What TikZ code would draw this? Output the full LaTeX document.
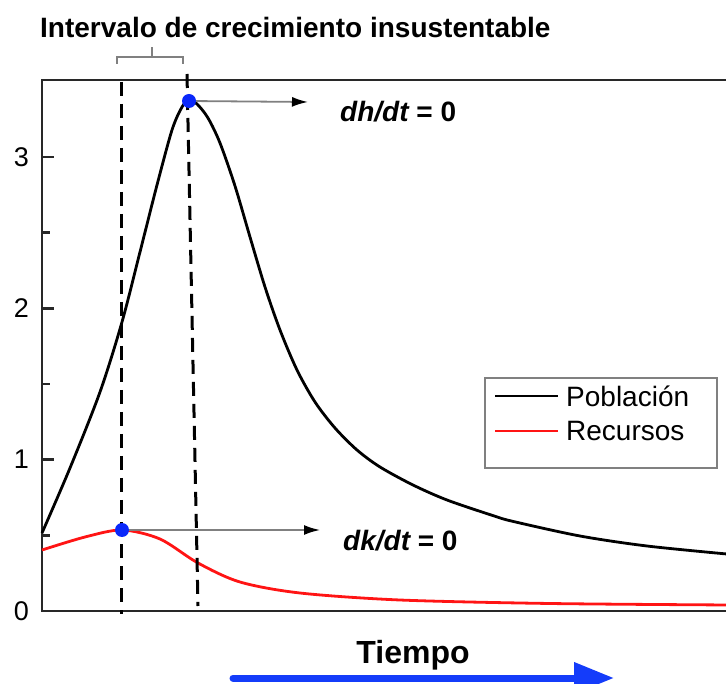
\documentclass[tikz,border=0pt]{standalone}
\usepackage{fontspec}
\setmainfont{Liberation Sans}
\usetikzlibrary{arrows.meta,positioning}
\definecolor{dotblue}{RGB}{10,40,250}
\definecolor{arrowblue}{RGB}{20,60,250}
\definecolor{curvered}{RGB}{255,20,20}
\definecolor{framegray}{RGB}{40,40,40}

\begin{document}
\begin{tikzpicture}[
    x = 1pt, y = -1pt,
    axis/.style = {line width=2.8pt, draw=framegray},
    curve/.style = {line width=2.8pt, smooth, tension=0.5},
    dashline/.style = {line width=3pt, dash pattern=on 14pt off 8pt},
    dot/.style = {circle, fill=dotblue, inner sep=0pt, minimum size=14pt},
    flecha/.style = {-{Latex[length=16pt,width=10pt,color=black]}, draw=gray, line width=1.8pt},
    ticklabel/.style = {anchor=east, inner sep=0pt, font=\fontsize{27}{30}\selectfont},
    leyenda/.style = {anchor=west, inner sep=0pt, font=\fontsize{28}{32}\selectfont},
    marca/.style = {anchor=base west, inner sep=0pt, font=\fontsize{28}{32}\selectfont\bfseries}
]
    \useasboundingbox (0,0) rectangle (726,684);

    % marco y ticks
    \draw[axis] (730,80) -- (42,80) -- (42,611) -- (730,611);
    \foreach \v in {0,1,2,3} {
        \draw[axis] (42,{611-151.3*\v}) -- ++(12,0);
        \node[ticklabel] (y\v) at (29,{611-151.3*\v}) {\v};
    }
    \foreach \v in {0.5,1.5,2.5}
        \draw[axis] (42,{611-151.3*\v}) -- ++(8,0);

    % curvas
    \draw[curve, curvered] plot coordinates {
        (42,550) (85,537) (122,530) (160,539) (198,563) (240,582)
        (300,593) (400,600) (550,603.5) (730,605)};
    \draw[curve, black] plot coordinates {
        (42,533) (70,468) (100,392) (122,322) (140,252) (157,185)
        (172,130) (182,107) (189,100) (197,104) (208,118) (220,143)
        (235,186) (250,237) (265,287) (280,330) (297,370) (315,402)
        (335,428) (357,450) (380,467) (413,485) (447,500) (493,515.6)
        (513,521.4) (580,536) (647,546) (730,554.3)};

    % lineas de referencia
    \coordinate (d1a) at (121,82);
    \coordinate (d1b) at (121,614);
    \coordinate (d2a) at (187,74);
    \coordinate (d2b) at (198,606);
    \draw[dashline] (d1a) -- (d1b);
    \draw[dashline] (d2a) -- (d2b);

    % maximos
    \node[dot] (picoh) at (189,101) {};
    \node[dot] (picok) at (122,530) {};
    \coordinate (fh) at (308,102);
    \coordinate (fk) at (320,530);
    \draw[flecha] (picoh) -- (fh);
    \draw[flecha] (picok) -- (fk);
    \node[marca] (dh) at (340,122) {\itshape dh/dt\upshape{} = 0};
    \node[marca] (dk) at (343,550) {\itshape dk/dt\upshape{} = 0};

    % intervalo
    \node[anchor=base west, inner sep=0pt, font=\fontsize{28}{32}\selectfont\bfseries]
        (titulo) at (40,38) {Intervalo de crecimiento insustentable};
    \draw[gray, line width=1.4pt] (117,64) -- (117,57) -- (183,57) -- (183,64)
        (152,57) -- (152,47);

    % leyenda
    \draw[gray, line width=1.4pt] (485,378) rectangle (717,468);
    \draw[line width=2.8pt, black] (495,396) -- (558,396);
    \draw[line width=2.8pt, curvered] (495,431) -- (558,431);
    \node[leyenda] (lpob) at (566,396) {Población};
    \node[leyenda] (lrec) at (566,431) {Recursos};

    % eje del tiempo
    \node[anchor=base, inner sep=0pt, font=\fontsize{32}{36}\selectfont\bfseries]
        (tiempo) at (413,663) {Tiempo};
    \coordinate (t0) at (233,678);
    \coordinate (t1) at (614,678);
    \draw[arrowblue, line width=7pt, line cap=round,
        -{Triangle[length=40pt,width=30pt]}] (t0) -- (t1);
\end{tikzpicture}
\end{document}
